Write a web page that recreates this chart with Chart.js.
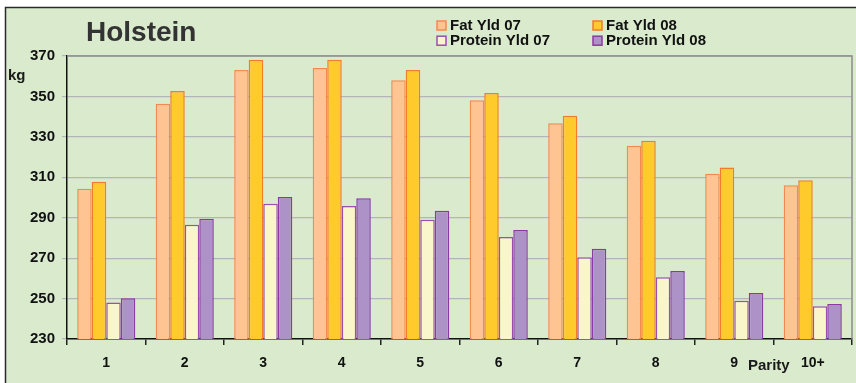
<!DOCTYPE html>
<html>
<head>
<meta charset="utf-8">
<script src="https://cdn.jsdelivr.net/npm/chart.js@4"></script>
<style>
  html, body { margin: 0; padding: 0; background: #ffffff; }
  #wrap { width: 856px; height: 383px; position: relative; }
</style>
</head>
<body>
<div id="wrap"><canvas id="chart" width="856" height="383"></canvas></div>
<script>
// Parity categories and yields (kg)
const parities = ["1", "2", "3", "4", "5", "6", "7", "8", "9", "10+"];
const fatYld07 = [304.3, 346.4, 363.1, 364.1, 358.0, 348.1, 336.7, 325.6, 311.8, 306.0];
const fatYld08 = [307.8, 352.7, 368.2, 368.2, 363.1, 351.7, 340.5, 328.1, 314.9, 308.5];
const protYld07 = [248.1, 286.5, 296.9, 295.8, 289.0, 280.4, 270.5, 260.6, 248.9, 246.2];
const protYld08 = [250.1, 289.5, 300.2, 299.6, 293.5, 283.9, 274.7, 263.7, 252.8, 247.3];
const yTicks = [230, 250, 270, 290, 310, 330, 350, 370];

const FONT = "'Liberation Sans', Arial, sans-serif";

// Background, outer frame and extra texts
const decor = {
  id: "decor",
  beforeDraw(chart) {
    const ctx = chart.ctx;
    ctx.save();
    ctx.fillStyle = "#ffffff";
    ctx.fillRect(0, 0, chart.width, chart.height);
    ctx.fillStyle = "#d9eacd";
    ctx.fillRect(5, 7, chart.width - 5, chart.height - 7);
    ctx.strokeStyle = "#2a2a2a";
    ctx.lineWidth = 1.5;
    ctx.beginPath();
    ctx.moveTo(5.5, chart.height);
    ctx.lineTo(5.5, 7.5);
    ctx.lineTo(chart.width, 7.5);
    ctx.stroke();
    ctx.restore();
  },
  afterDraw(chart) {
    const ctx = chart.ctx;
    const a = chart.chartArea;
    ctx.save();
    // plot frame top / right
    ctx.strokeStyle = "#8c8c8c";
    ctx.lineWidth = 1.5;
    ctx.beginPath();
    ctx.moveTo(a.left, a.top);
    ctx.lineTo(a.right, a.top);
    ctx.lineTo(a.right, a.bottom);
    ctx.stroke();

    ctx.fillStyle = "#333333";
    ctx.font = "bold 28px " + FONT;
    ctx.textBaseline = "middle";
    ctx.textAlign = "left";
    ctx.fillText("Holstein", 86, 33);

    ctx.fillStyle = "#1a1a1a";
    ctx.font = "bold 15px " + FONT;
    ctx.fillText("kg", 8, 76);
    ctx.fillText("Parity", 748, 366);

    // legend, two columns
    const pos = [[437, 25.5], [593, 25.5], [437, 40.7], [593, 40.7]];
    chart.data.datasets.forEach((ds, i) => {
      const [x, y] = pos[i];
      ctx.fillStyle = ds.backgroundColor;
      ctx.fillRect(x, y - 4.5, 9, 9);
      ctx.strokeStyle = ds.borderColor;
      ctx.lineWidth = 1.5;
      ctx.strokeRect(x, y - 4.5, 9, 9);
      ctx.fillStyle = "#111111";
      ctx.font = "bold 15px " + FONT;
      ctx.fillText(ds.label, x + 13, y + 0.5);
    });
    ctx.restore();
  }
};

new Chart(document.getElementById("chart"), {
  type: "bar",
  data: {
    labels: parities,
    datasets: [
      { label: "Fat Yld 07", data: fatYld07, backgroundColor: "#fec491", borderColor: "#f58a4e" },
      { label: "Fat Yld 08", data: fatYld08, backgroundColor: "#ffca2c", borderColor: "#f57a2a" },
      { label: "Protein Yld 07", data: protYld07, backgroundColor: "#faf6cc", borderColor: "#9a4fac" },
      { label: "Protein Yld 08", data: protYld08, backgroundColor: "#ad92c7", borderColor: "#8a3aa2" }
    ]
  },
  options: {
    responsive: false,
    animation: false,
    layout: { padding: { left: 0, right: 4, top: 56, bottom: 0 } },
    datasets: {
      bar: { borderWidth: 1.5, barPercentage: 1.0, categoryPercentage: 0.74 }
    },
    plugins: {
      legend: { display: false },
      tooltip: { enabled: false },
      title: { display: false }
    },
    scales: {
      x: {
        grid: { offset: true, drawOnChartArea: false, color: "#222222", tickLength: 6, lineWidth: 1.5 },
        border: { color: "#111111", width: 1.5 },
        ticks: { color: "#111111", font: { family: FONT, size: 14, weight: "bold" }, padding: 10 },
        afterFit(scale) { scale.height = 44; }
      },
      y: {
        min: 230,
        max: 370,
        afterBuildTicks(scale) { scale.ticks = yTicks.map(v => ({ value: v })); },
        grid: { color: "#b4b4bc", lineWidth: 1.2, tickLength: 5 },
        border: { color: "#111111", width: 1.5 },
        ticks: { color: "#111111", font: { family: FONT, size: 15, weight: "bold" }, padding: 7 },
        afterFit(scale) { scale.width = 67; }
      }
    }
  },
  plugins: [decor]
});
</script>
</body>
</html>
